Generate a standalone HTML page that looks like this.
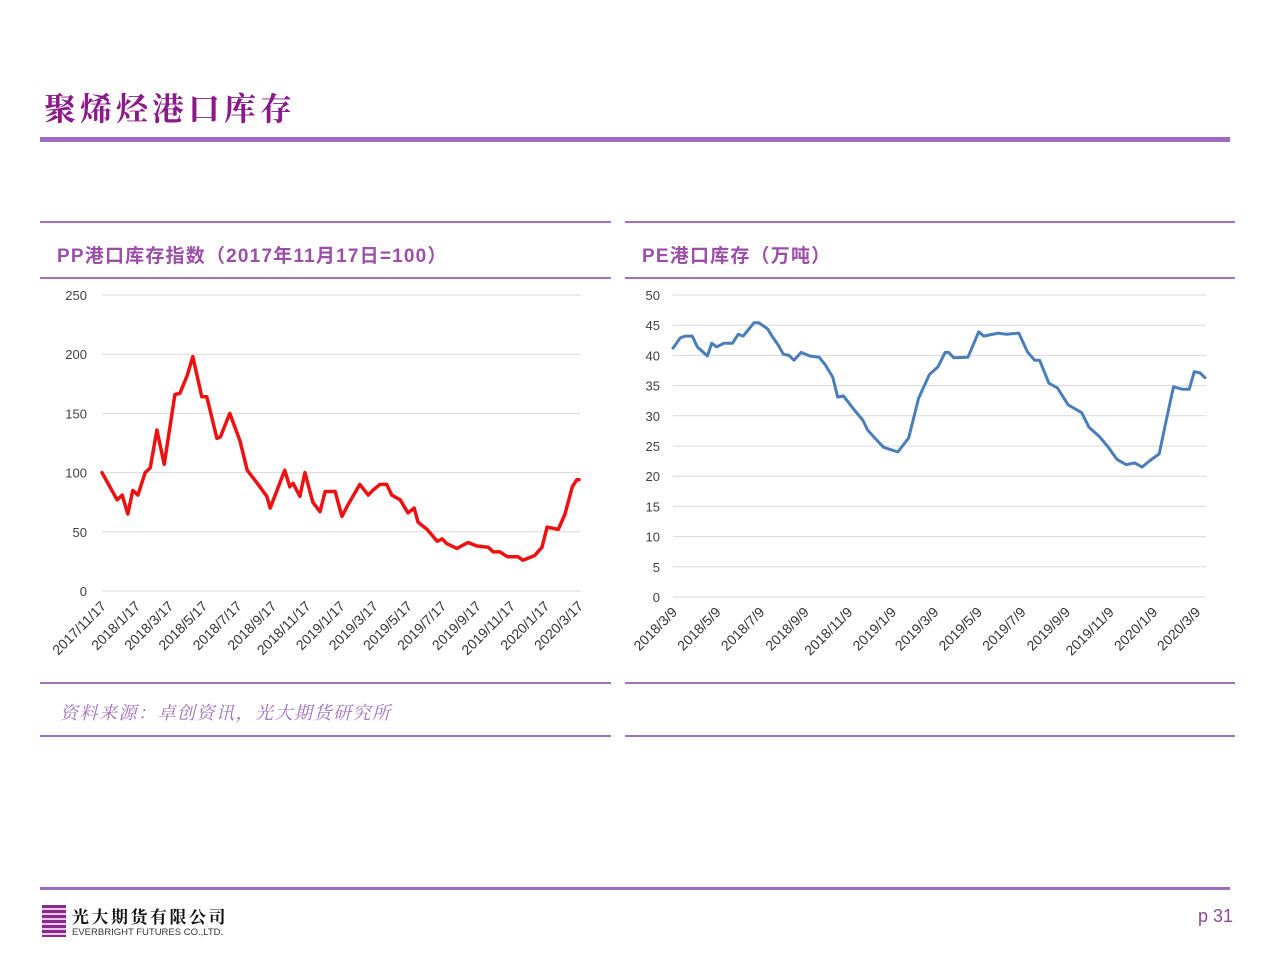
<!DOCTYPE html>
<html><head><meta charset="utf-8">
<style>
body{margin:0;width:1280px;height:960px;background:#fff;position:relative;overflow:hidden;font-family:"Liberation Sans","Noto Sans CJK SC",sans-serif}
.abs{position:absolute}
.hl{position:absolute;background:#a070be}
</style></head><body>
<div class="abs" style="left:44px;top:84px;font-size:32px;font-weight:bold;color:#8a1a8a;letter-spacing:4px;font-family:'Liberation Serif','Noto Serif CJK SC',serif">聚烯烃港口库存</div>
<div class="hl" style="left:40px;top:137px;width:1190px;height:5px;background:#9c6cc0"></div>

<div class="hl" style="left:40px;top:221px;width:571px;height:2px"></div>
<div class="hl" style="left:40px;top:277px;width:571px;height:2px"></div>
<div class="hl" style="left:40px;top:682px;width:571px;height:2px"></div>
<div class="hl" style="left:40px;top:735px;width:571px;height:2px"></div>
<div class="hl" style="left:625px;top:221px;width:610px;height:2px"></div>
<div class="hl" style="left:625px;top:277px;width:610px;height:2px"></div>
<div class="hl" style="left:625px;top:682px;width:610px;height:2px"></div>
<div class="hl" style="left:625px;top:735px;width:610px;height:2px"></div>

<div class="abs" style="left:57px;top:241px;font-size:19px;font-weight:bold;color:#9b4fa8;letter-spacing:1.2px">PP港口库存指数（2017年11月17日=100）</div>
<div class="abs" style="left:642px;top:241px;font-size:19px;font-weight:bold;color:#9b4fa8;letter-spacing:1.2px">PE港口库存（万吨）</div>
<div class="abs" style="left:60px;top:699px;font-size:18px;font-style:italic;color:#a070be;letter-spacing:1.5px;font-family:'Liberation Serif','Noto Serif CJK SC',serif">资料来源：卓创资讯，光大期货研究所</div>

<svg class="abs" style="left:0;top:0" width="1280" height="960" id="charts"></svg>

<div class="hl" style="left:40px;top:887px;width:1190px;height:3px;background:#9c6cc0"></div>
<div class="abs" style="left:42px;top:905px;width:24px;height:32px;background:repeating-linear-gradient(#8a2a8a 0 3px,#e8c8e8 3px 5px)"></div>
<div class="abs" style="left:72px;top:903px;font-size:17px;font-weight:bold;color:#111;letter-spacing:2.5px;font-family:'Liberation Serif','Noto Serif CJK SC',serif">光大期货有限公司</div>
<div class="abs" style="left:72px;top:927px;font-size:9.5px;color:#333">EVERBRIGHT FUTURES CO.,LTD.</div>
<div class="abs" style="left:1198px;top:906px;font-size:18px;color:#8a4a9a">p 31</div>

<script>
const ppDays=[0,27,36,46,55,64,77,86,98,111,130,139,152,162,178,187,205,211,228,246,259,277,294,300,326,335,341,353,362,376,389,398,416,428,439,460,475,483,496,508,517,532,546,557,564,580,598,607,615,633,653,669,689,698,710,723,742,751,772,785,794,814,826,839,847,851];
const ppValues=[100,77,81,65,85,81,100,104,136,107,166,167,182,198,164,164,129,130,150,127,102,91,80,70,102,88,91,80,100,75,67,84,84,63,73,90,81,85,90,90,81,77,66,70,58,52,42,44,40,36,41,38,37,33,33,29,29,26,30,37,54,52,65,88,94,94];
const ppTickLabels=["2017/11/17","2018/1/17","2018/3/17","2018/5/17","2018/7/17","2018/9/17","2018/11/17","2019/1/17","2019/3/17","2019/5/17","2019/7/17","2019/9/17","2019/11/17","2020/1/17","2020/3/17"];
const ppTickDays=[0,61,120,181,242,304,365,426,485,546,607,669,730,791,851];
const ppYTicks=[0,50,100,150,200,250];

const peDays=[0,10,17,27,34,48,54,61,71,83,91,98,113,120,132,140,147,154,162,169,179,191,204,213,223,230,238,253,265,272,282,294,314,329,343,358,370,380,385,392,412,427,434,454,466,483,495,505,512,525,537,552,564,571,581,596,608,620,633,645,655,665,679,689,699,711,721,728,736,743];
const peValues=[41.2,42.9,43.2,43.2,41.4,39.9,42,41.4,42,42,43.5,43.2,45.4,45.4,44.4,42.9,41.7,40.2,40,39.2,40.5,39.9,39.7,38.4,36.4,33.1,33.3,31,29.3,27.6,26.3,24.8,24,26.3,32.9,36.8,38.1,40.5,40.5,39.6,39.7,43.9,43.2,43.7,43.5,43.7,40.6,39.2,39.2,35.4,34.6,31.8,31,30.5,28.1,26.5,24.8,22.8,21.9,22.2,21.5,22.5,23.7,29.3,34.8,34.4,34.4,37.3,37.1,36.3];
const peTickLabels=["2018/3/9","2018/5/9","2018/7/9","2018/9/9","2018/11/9","2019/1/9","2019/3/9","2019/5/9","2019/7/9","2019/9/9","2019/11/9","2020/1/9","2020/3/9"];
const peTickDays=[0,61,122,184,245,306,365,426,487,549,610,671,731];
const peYTicks=[0,5,10,15,20,25,30,35,40,45,50];

const NS="http://www.w3.org/2000/svg";
const svg=document.getElementById('charts');
function mk(tag,attrs){const e=document.createElementNS(NS,tag);for(const k in attrs)e.setAttribute(k,attrs[k]);svg.appendChild(e);return e;}

function drawChart(cfg){
  const xs=d=>cfg.x0+(d-cfg.d0)/(cfg.d1-cfg.d0)*(cfg.x1-cfg.x0);
  const ys=v=>cfg.yb-(v-cfg.v0)/(cfg.v1-cfg.v0)*(cfg.yb-cfg.yt);
  cfg.yTicks.forEach(t=>{
    const g=mk('line',{x1:cfg.gx0,x2:cfg.gx1,y1:ys(t),y2:ys(t),stroke:'#d9d9d9','stroke-width':1});
    
    
    const tx=mk('text',{x:cfg.lx,y:ys(t)+5,'text-anchor':'end','font-size':13,fill:'#404040','font-family':'Liberation Sans, sans-serif'});
    tx.textContent=t;
    
    
  });
  cfg.tickDays.forEach((d,i)=>{
    const x=xs(d)+5, y=cfg.yb+16;
    const tx=mk('text',{x:x,y:y,'text-anchor':'end','font-size':14,fill:'#333','font-family':'Liberation Sans, sans-serif',transform:`rotate(-45 ${x} ${y})`});
    tx.textContent=cfg.tickLabels[i];
    
    
  });
  const pts=cfg.days.map((d,i)=>xs(d).toFixed(1)+','+ys(cfg.values[i]).toFixed(1)).join(' ');
  const pl=mk('polyline',{points:pts,fill:'none',stroke:cfg.color,'stroke-width':cfg.sw,'stroke-linejoin':'round','stroke-linecap':'round'});
  
  
}
drawChart({pre:'pp',days:ppDays,values:ppValues,tickDays:ppTickDays,tickLabels:ppTickLabels,yTicks:ppYTicks,
  d0:0,d1:851,x0:102,x1:579,v0:0,v1:250,yb:591,yt:295,gx0:102,gx1:580,lx:87,color:'#ee1111',sw:3.5});
drawChart({pre:'pe',days:peDays,values:peValues,tickDays:peTickDays,tickLabels:peTickLabels,yTicks:peYTicks,
  d0:0,d1:743,x0:673,x1:1205,v0:0,v1:50,yb:597,yt:295,gx0:673,gx1:1206,lx:660,color:'#4a7ebb',sw:3});
</script>
</body></html>
